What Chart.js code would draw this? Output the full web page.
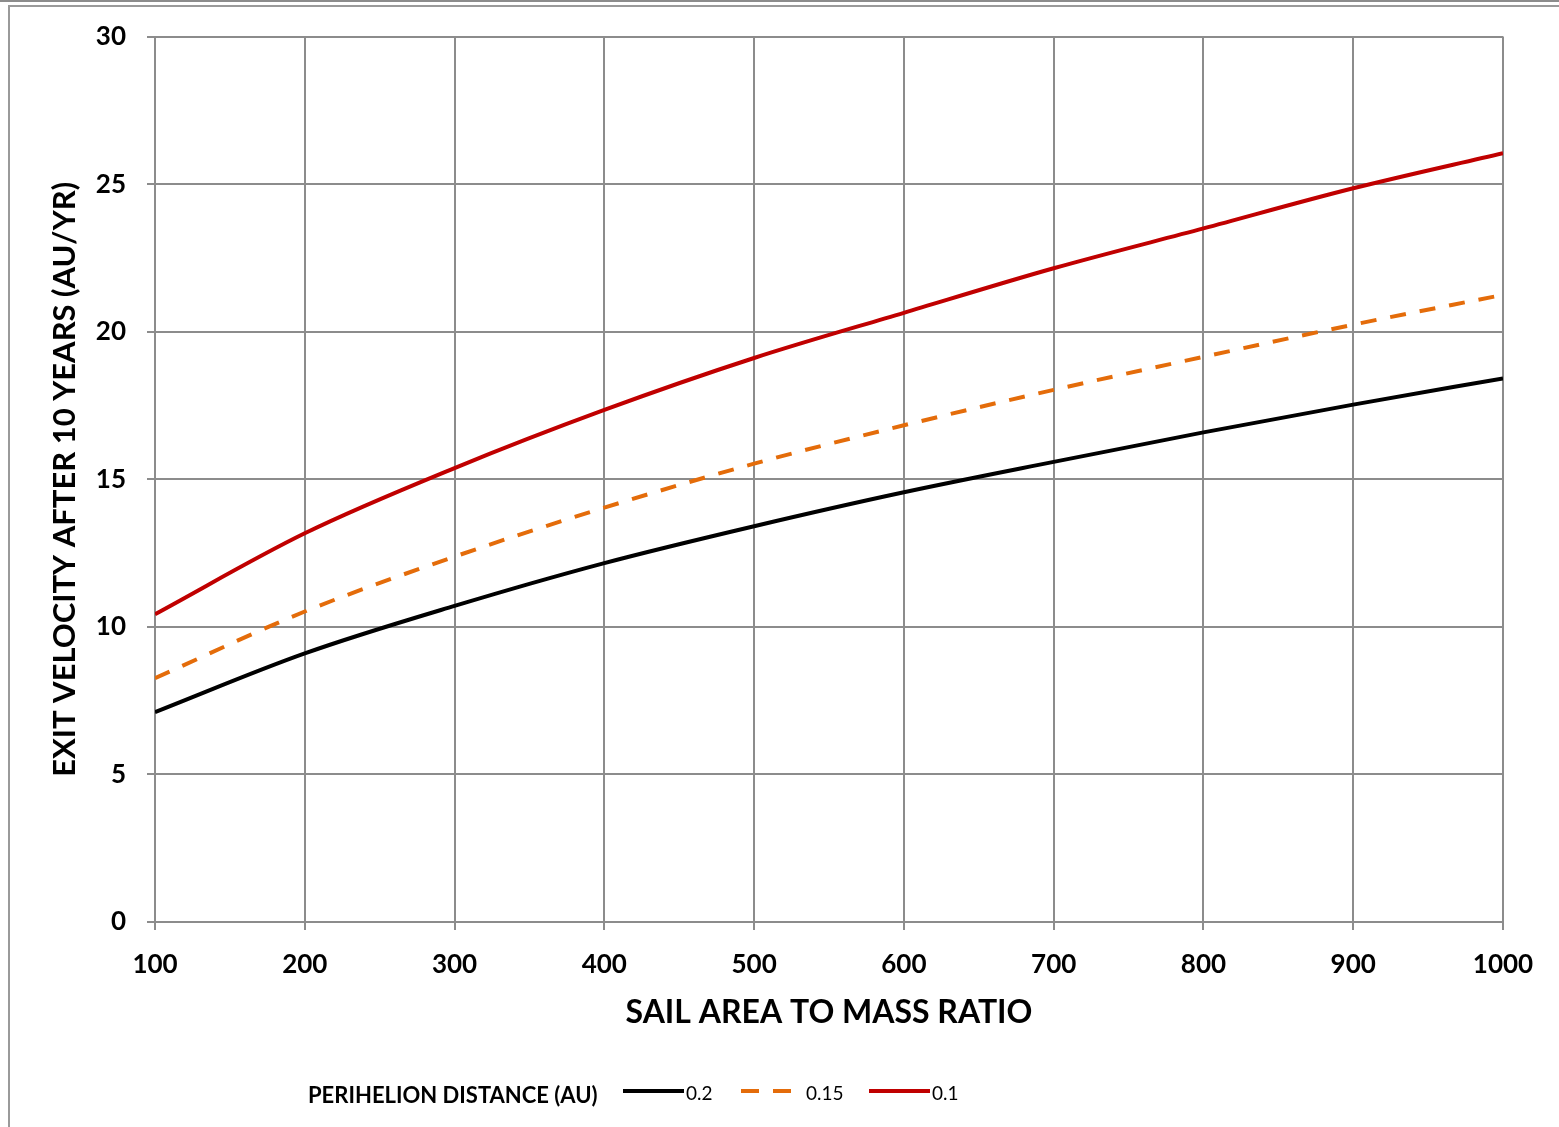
<!DOCTYPE html>
<html>
<head>
<meta charset="utf-8">
<script src="https://cdn.jsdelivr.net/npm/chart.js@4/dist/chart.umd.min.js"></script>
<style>
  html, body { margin: 0; padding: 0; background: #ffffff; }
  #wrap { position: relative; width: 1559px; height: 1127px; overflow: hidden; }
  #topline { position: absolute; left: 0; top: 0; width: 1559px; height: 2px; background: #8c8c8c; }
  #frame { position: absolute; left: 8px; top: 5px; width: 1600px; height: 1200px;
           border-left: 2px solid #9a9a9a; border-top: 2px solid #9a9a9a; }
  canvas { position: absolute; left: 0; top: 0; }
</style>
</head>
<body>
<div id="wrap">
  <div id="topline"></div>
  <div id="frame"></div>
  <canvas id="c" width="1559" height="1127"></canvas>
</div>
<script>
// ---- data ----
const sailAreaToMass = [100, 200, 300, 400, 500, 600, 700, 800, 900, 1000];
const perihelion02  = [7.11, 9.10, 10.71, 12.16, 13.41, 14.56, 15.59, 16.59, 17.53, 18.42];
const perihelion015 = [8.26, 10.52, 12.38, 14.04, 15.53, 16.83, 18.03, 19.15, 20.24, 21.25];
const perihelion01  = [10.43, 13.17, 15.38, 17.35, 19.11, 20.64, 22.15, 23.50, 24.86, 26.05];
const seriesLabels = ['0.2', '0.15', '0.1'];
const xTicks = [100, 200, 300, 400, 500, 600, 700, 800, 900, 1000];
const yTicks = [0, 5, 10, 15, 20, 25, 30];
const legendTitle = 'PERIHELION DISTANCE (AU)';
const xTitle = 'SAIL AREA TO MASS RATIO';
const yTitle = 'EXIT VELOCITY AFTER 10 YEARS (AU/YR)';

const FONT = 'Lato, "Open Sans", "DejaVu Sans", sans-serif';
const GRID = '#8c8c8c';

function pts(ys) { return sailAreaToMass.map((x, i) => ({ x: x, y: ys[i] })); }

const legendPlugin = {
  id: 'customLegend',
  afterDraw(chart) {
    const ctx = chart.ctx;
    ctx.save();
    const cy = 1091;
    ctx.textBaseline = 'middle';
    ctx.fillStyle = '#000';
    ctx.font = 'bold 22px ' + FONT;
    ctx.textAlign = 'left';
    ctx.fillText(legendTitle, 308, 1096);
    const itemX = [623, 741, 869];
    ctx.font = '19px ' + FONT;
    chart.data.datasets.forEach((ds, i) => {
      const x0 = itemX[i];
      const dashed = ds.borderDash && ds.borderDash.length;
      ctx.beginPath();
      ctx.strokeStyle = ds.borderColor;
      ctx.lineWidth = ds.borderWidth;
      ctx.setLineDash(dashed ? [18, 14] : []);
      ctx.lineCap = 'butt';
      ctx.moveTo(x0, cy);
      ctx.lineTo(x0 + (dashed ? 50 : 61), cy);
      ctx.stroke();
      ctx.setLineDash([]);
      ctx.fillStyle = '#000';
      ctx.fillText(ds.label, dashed ? x0 + 65 : x0 + 63, 1094);
    });
    ctx.restore();
  }
};

new Chart(document.getElementById('c'), {
  type: 'line',
  data: {
    datasets: [
      { label: seriesLabels[0], data: pts(perihelion02), borderColor: '#000000', borderWidth: 4,
        pointRadius: 0, cubicInterpolationMode: 'monotone', fill: false },
      { label: seriesLabels[1], data: pts(perihelion015), borderColor: '#E46C0A', borderWidth: 4,
        borderDash: [16, 14], pointRadius: 0, cubicInterpolationMode: 'monotone', fill: false },
      { label: seriesLabels[2], data: pts(perihelion01), borderColor: '#C00000', borderWidth: 4,
        pointRadius: 0, cubicInterpolationMode: 'monotone', fill: false }
    ]
  },
  options: {
    responsive: false,
    animation: false,
    events: [],
    layout: { padding: { left: 0, top: 36, right: 56, bottom: 60 } },
    plugins: { legend: { display: false }, tooltip: { enabled: false } },
    scales: {
      x: {
        type: 'linear', min: 100, max: 1000,
        afterBuildTicks(scale) { scale.ticks = xTicks.map(v => ({ value: v })); },
        afterFit(scale) { scale.height = 145; },
        grid: { color: GRID, lineWidth: 2, tickLength: 8, drawTicks: true },
        border: { color: GRID, width: 2 },
        ticks: { color: '#000', padding: 19, font: { family: FONT, size: 26, weight: 'bold' }, maxRotation: 0,
                 callback: v => String(v) },
        title: { display: true, text: xTitle, color: '#000',
                 font: { family: FONT, size: 32, weight: 'bold' }, padding: { top: 0, bottom: 35 } }
      },
      y: {
        type: 'linear', min: 0, max: 30,
        afterBuildTicks(scale) { scale.ticks = yTicks.map(v => ({ value: v })); },
        afterFit(scale) { scale.width = 155; },
        grid: { color: GRID, lineWidth: 2, tickLength: 8, drawTicks: true },
        border: { color: GRID, width: 2 },
        ticks: { color: '#000', padding: 21, font: { family: FONT, size: 26, weight: 'bold' },
                 callback: v => String(v) },
        title: { display: true, text: yTitle, color: '#000',
                 font: { family: FONT, size: 31, weight: 'bold' }, padding: { top: 46, bottom: 0 } }
      }
    }
  },
  plugins: [legendPlugin]
});
</script>
</body>
</html>
